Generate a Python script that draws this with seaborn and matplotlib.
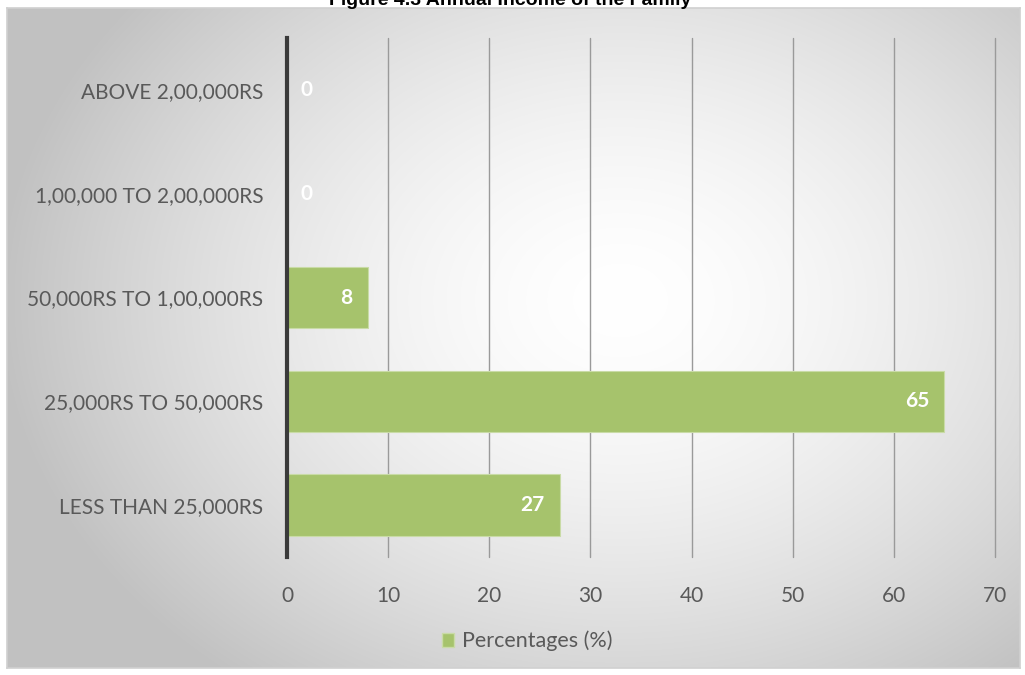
import numpy as np
import pandas as pd
import matplotlib
matplotlib.use("Agg")
import matplotlib.pyplot as plt
import seaborn as sns

categories = ["ABOVE 2,00,000RS", "1,00,000 TO 2,00,000RS", "50,000RS TO 1,00,000RS",
              "25,000RS TO 50,000RS", "LESS THAN 25,000RS"]
values = [0, 0, 8, 65, 27]
xticks = [0, 10, 20, 30, 40, 50, 60, 70]
series_name = "Percentages (%)"
title = "Figure 4.3 Annual Income of the Family"

sns.set_theme(style="white")
plt.rcParams['font.family'] = ['Lato', 'DejaVu Sans']

W, H = 1025, 675
fig = plt.figure(figsize=(W / 100, H / 100), dpi=100)
fig.patch.set_facecolor("white")

# chart-area background with radial gradient
bx0, by0, bx1, by1 = 7, 8, 1020, 668
bg = fig.add_axes([bx0 / W, 1 - by1 / H, (bx1 - bx0) / W, (by1 - by0) / H])
yy, xx = np.mgrid[0:(by1 - by0), 0:(bx1 - bx0)]
cx, cy = 620 - bx0, 300 - by0
r = np.sqrt(((xx - cx) / 620.0) ** 2 + ((yy - cy) / 480.0) ** 2)
r = np.clip(r, 0, 1)
shade = 1.0 - 0.24 * r ** 1.6
img = np.dstack([shade, shade, shade])
bg.imshow(img, aspect="auto", extent=[0, 1, 0, 1], origin="upper")
bg.set_xticks([]); bg.set_yticks([])
for s in bg.spines.values():
    s.set_color("#d0d0d0"); s.set_linewidth(1.2)

# title (clipped at top as in the reference)
fig.text(510 / W, 1 - 5 / H, title, ha="center", va="baseline",
         fontsize=14, fontweight="bold", family="Liberation Sans", color="black")

ax = fig.add_axes([287 / W, 1 - 557 / H, 708 / W, 519 / H])
ax.patch.set_alpha(0)
df = pd.DataFrame({"cat": categories, "val": values})
sns.barplot(data=df, x="val", y="cat", orient="h", color="#a6c36c", saturation=1,
            width=0.59, ax=ax, edgecolor="#c9dba6", linewidth=0.8, zorder=3)
ax.set_xlim(0, 70)
ax.set_ylim(4.5, -0.5)
ax.set_xticks(xticks)
ax.set_xticklabels([str(t) for t in xticks])
ax.set_xlabel(""); ax.set_ylabel("")
ax.grid(axis="y", visible=False)
ax.grid(axis="x", visible=False)
for t in xticks[1:]:
    ax.axvline(t, color="#9a9a9a", linewidth=1.0, zorder=0, clip_on=False)
for s in ["top", "right", "bottom"]:
    ax.spines[s].set_visible(False)
ax.spines["left"].set_color("#3a3a3a")
ax.spines["left"].set_linewidth(3)
ax.spines["left"].set_zorder(5)
ax.tick_params(axis="both", length=0, labelsize=15, labelcolor="#595959")
ax.tick_params(axis="x", pad=21)
ax.tick_params(axis="y", pad=17)

for i, v in enumerate(values):
    if v == 0:
        ax.annotate(str(v), (v, i), xytext=(10, 0), textcoords="offset points",
                    ha="left", va="center", color="white", fontsize=15, fontweight="bold", zorder=6)
    else:
        ax.annotate(str(v), (v, i), xytext=(-11, 0), textcoords="offset points",
                    ha="right", va="center", color="white", fontsize=15, fontweight="bold", zorder=6)

from matplotlib.patches import Patch
handle = Patch(facecolor="#a6c36c", edgecolor="#c9dba6", label=series_name)
fig.legend(handles=[handle], loc="center", bbox_to_anchor=(527 / W, 1 - 641 / H),
           frameon=False, fontsize=15.5, handlelength=0.6, handleheight=0.6,
           handletextpad=0.35, labelcolor="#595959")

fig.savefig("out.png", dpi=100)
